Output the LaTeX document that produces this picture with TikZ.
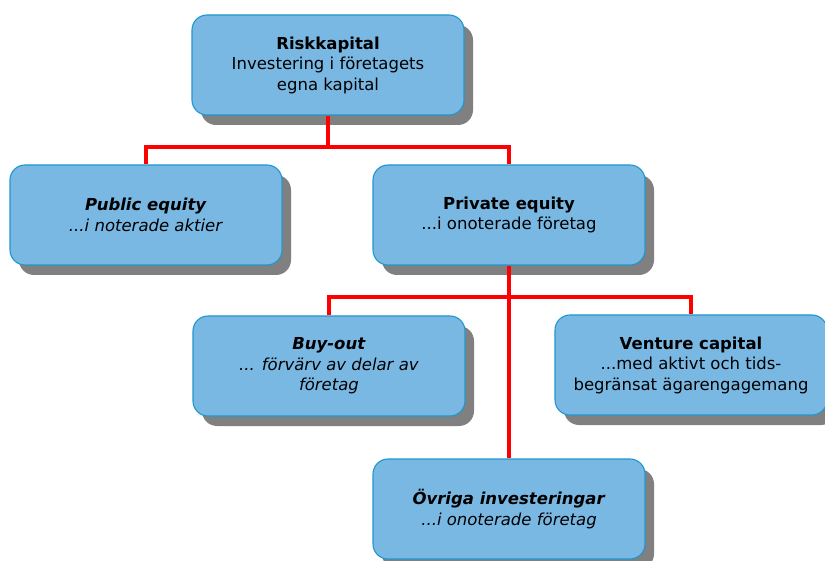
\documentclass[tikz,border=0pt]{standalone}
\usepackage{fontspec}
\setmainfont{DejaVu Sans}
\usetikzlibrary{shadows}
\definecolor{boxblue}{RGB}{122,184,228}
\definecolor{boxedge}{RGB}{32,150,204}
\definecolor{linkred}{RGB}{255,0,0}
\tikzset{
    box/.style={draw=boxedge, line width=1.1pt, fill=boxblue, rounded corners=15pt,
        minimum width=272pt, minimum height=100pt, align=center,
        font=\fontsize{16.5}{20.5}\selectfont,
        drop shadow={shadow xshift=9pt, shadow yshift=-10pt, fill=black!50, opacity=1}},
    link/.style={draw=linkred, line width=3.5pt}
}
\begin{document}
\begin{tikzpicture}[x=1pt,y=-1pt]
    \useasboundingbox (0,0) rectangle (825,561);
    % top level
    \node[box] (risk) at (328,65) {\textbf{Riskkapital}\\Investering i företagets\\egna kapital};
    \coordinate (bus1) at (328,147);
    % second level
    \node[box] (public) at (146,215) {\textbf{\textit{Public equity}}\\\textit{...i noterade aktier}};
    \node[box] (private) at (509,215) {\textbf{Private equity}\\...i onoterade företag};
    \coordinate (bus2) at (509,297);
    % third level
    \node[box] (buyout) at (329,366) {\textbf{\textit{Buy-out}}\\\textit{... förvärv av delar av}\\\textit{företag}};
    \node[box] (venture) at (691,365) {\textbf{Venture capital}\\...med aktivt och tids-\\begränsat ägarengagemang};
    \node[box] (other) at (509,509) {\textbf{\textit{Övriga investeringar}}\\\textit{...i onoterade företag}};
    % connectors
    \draw[link] (risk.south) -- (bus1);
    \draw[link] (public.north) |- (bus1) -| (private.north);
    \draw[link] (private.south) -- (other.north);
    \draw[link] (buyout.north) |- (bus2) -| (venture.north);
\end{tikzpicture}
\end{document}
